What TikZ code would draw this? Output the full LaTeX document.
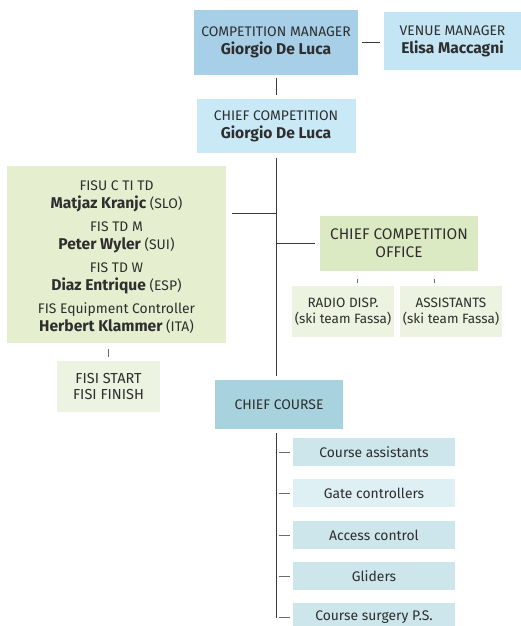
\documentclass[tikz,border=0pt]{standalone}
\usepackage{fontspec}
\setmainfont{Fira Sans}
\usetikzlibrary{positioning}
\definecolor{txt}{HTML}{2E2E2E}
\definecolor{ln}{HTML}{3A3A3A}
\definecolor{tk}{HTML}{6A6A6A}
\definecolor{cmblue}{HTML}{A7CFE7}
\definecolor{vmblue}{HTML}{C3E5F4}
\definecolor{ccblue}{HTML}{C9E9F7}
\definecolor{grbig}{HTML}{E5EFCF}
\definecolor{grlight}{HTML}{ECF3E1}
\definecolor{grmid}{HTML}{DCEAC3}
\definecolor{teal}{HTML}{A8D3DE}
\definecolor{subc}{HTML}{CCE6EB}
\definecolor{subl}{HTML}{DFF0F4}
\tikzset{
  box/.style={inner sep=0pt, align=center, text=txt, font=\fontsize{13.9}{18}\selectfont},
  conn/.style={draw=ln, line width=0.9pt},
  tick/.style={draw=tk, line width=0.9pt},
}
\newcommand{\nmb}[1]{{\fontsize{15.6}{18}\selectfont\bfseries #1}}
\newcommand{\ctry}[1]{{\fontsize{13.9}{18}\selectfont #1}}
\begin{document}
\begin{tikzpicture}[x=1pt,y=-1pt]
\useasboundingbox (0,0) rectangle (521,626);
\begin{scope}
\clip (0,0) rectangle (521,626);
% top
\node[box, fill=cmblue, minimum width=164, minimum height=65] (CM) at (276,42.5) {COMPETITION MANAGER\\\nmb{Giorgio De Luca}};
\node[box, fill=vmblue, minimum width=137, minimum height=58] (VM) at (452.5,41) {VENUE MANAGER\\\nmb{Elisa Maccagni}};
\node[box, fill=ccblue, minimum width=159, minimum height=54] (CC) at (276,126) {CHIEF COMPETITION\\\nmb{Giorgio De Luca}};
% left
\node[box, fill=grbig, minimum width=219, minimum height=177] (GR) at (116.5,254.5) {\rule{0pt}{15pt}FISU C TI TD\\\nmb{Matjaz Kranjc} \ctry{(SLO)}\\[5pt]FIS TD M\\\nmb{Peter Wyler} \ctry{(SUI)}\\[5pt]FIS TD W\\\nmb{Diaz Entrique} \ctry{(ESP)}\\[5pt]FIS Equipment Controller\\\nmb{Herbert Klammer} \ctry{(ITA)}};
\node[box, fill=grlight, minimum width=103, minimum height=51, font=\fontsize{14.5}{16}\selectfont] (FISI) at (108.5,386.5) {FISI START\\FISI FINISH};
% office
\node[box, fill=grmid, minimum width=158, minimum height=55, font=\fontsize{15.4}{18}\selectfont] (CCO) at (399,243) {CHIEF COMPETITION\\OFFICE};
\node[box, fill=grlight, minimum width=102, minimum height=51, font=\fontsize{13.5}{16}\selectfont] (RD) at (343,311.5) {RADIO DISP.\\(ski team Fassa)};
\node[box, fill=grlight, minimum width=102, minimum height=51, font=\fontsize{13.5}{16}\selectfont] (AS) at (451,311.5) {ASSISTANTS\\(ski team Fassa)};
% course
\node[box, fill=teal, minimum width=128, minimum height=49] (CO) at (279,404.5) {CHIEF COURSE};
\node[box, fill=subc, minimum width=162, minimum height=28] (S1) at (374,452) {Course assistants};
\node[box, fill=subl, minimum width=162, minimum height=28] (S2) at (374,493) {Gate controllers};
\node[box, fill=subc, minimum width=162, minimum height=28] (S3) at (374,535) {Access control};
\node[box, fill=subc, minimum width=162, minimum height=28] (S4) at (374,576) {Gliders};
\node[box, fill=subc, minimum width=162, minimum height=28] (S5) at (374,617) {Course surgery P.S.};
\end{scope}
% connectors
\draw[conn, shorten <=4, shorten >=4] (CM.east) -- (VM.west |- CM.east);
\draw[conn, shorten <=3, shorten >=4] (CM.south) -- (CC.north);
\draw[conn, shorten <=5, shorten >=4] (CC.south) -- (CC.south |- CO.north);
\coordinate (J1) at (276,213);
\coordinate (J2) at (276,243);
\draw[conn, shorten >=6] (J1) -- (GR.east |- J1);
\draw[conn, shorten >=5] (J2) -- (CCO.west);
\draw[tick, shorten <=6, shorten >=4] (GR.south -| FISI.north) -- (FISI.north);
\draw[tick, shorten <=8, shorten >=3] ([xshift=14]RD.north |- CCO.south) -- ([xshift=14]RD.north);
\draw[tick, shorten <=8, shorten >=3] ([xshift=-17]AS.north |- CCO.south) -- ([xshift=-17]AS.north);
\coordinate (CB) at (276,618);
\draw[conn, shorten <=4] (CO.south -| CB) -- (CB);
\foreach \s in {S1,S2,S3,S4,S5}{
  \draw[tick, shorten <=3, shorten >=3] (CB |- \s.west) -- (\s.west);
}
\end{tikzpicture}
\end{document}
